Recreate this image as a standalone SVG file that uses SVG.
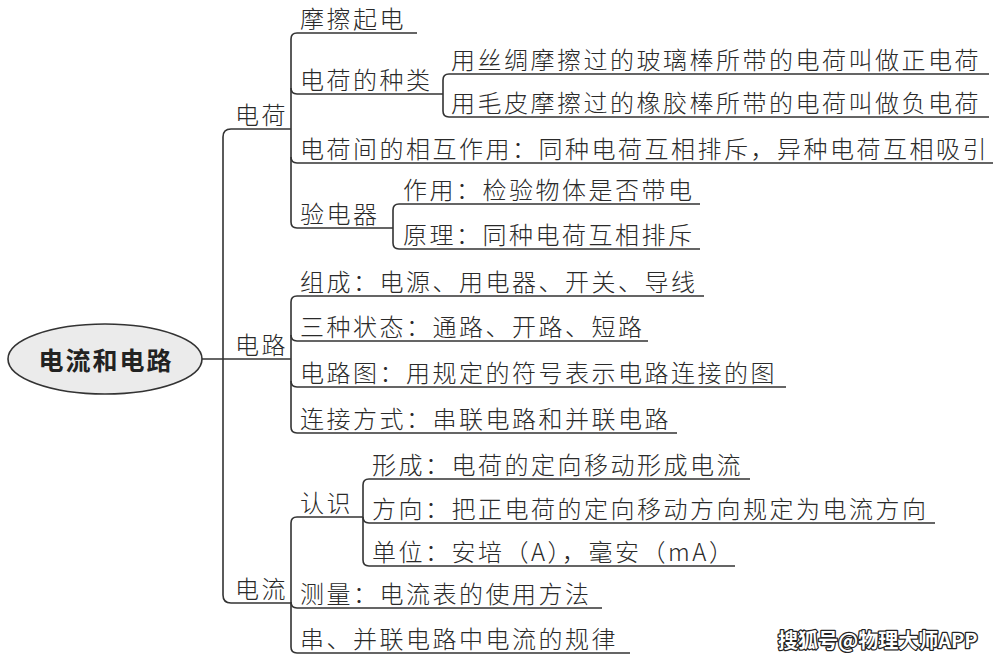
<svg xmlns="http://www.w3.org/2000/svg" width="1001" height="663" viewBox="0 0 1001 663">
<style>
.t{font-family:"Noto Sans CJK SC","Noto Sans",sans-serif;font-size:24px;font-weight:300;letter-spacing:2.5px;fill:#2a2a2a}
.root{font-family:"Noto Sans CJK SC","Noto Sans",sans-serif;font-size:25px;font-weight:bold;letter-spacing:2px;fill:#222}
.c{fill:none;stroke:#333;stroke-width:1.6}
.wm{font-family:"Noto Sans CJK SC","Noto Sans",sans-serif;font-size:20px;font-weight:bold;fill:#fff;stroke:#222;stroke-width:2.5;paint-order:stroke;stroke-linejoin:round}
</style>
<rect width="1001" height="663" fill="#fff"/>
<g id="connectors" class="c">
  <path d="M202,359 H291"/>
  <path d="M231,129 Q223,129 223,137 V595 Q223,603 231,603 H291"/>
  <path d="M231,129 H291"/>
  <path d="M297,33 H417 M297,33 Q291,33 291,39 V222 Q291,228 297,228 H393"/>
  <path d="M291,88 Q291,94 297,94 H443"/>
  <path d="M291,157 Q291,163 297,163 H993"/>
  <path d="M449,74 H989 M449,74 Q443,74 443,80 V111 Q443,117 449,117 H989"/>
  <path d="M399,204 H700 M399,204 Q393,204 393,210 V243 Q393,249 399,249 H700"/>
  <path d="M297,296 H704 M297,296 Q291,296 291,302 V427 Q291,433 297,433 H677"/>
  <path d="M291,335 Q291,341 297,341 H648"/>
  <path d="M291,381 Q291,387 297,387 H786"/>
  <path d="M297,517 H363 M297,517 Q291,517 291,523 V647 Q291,653 297,653 H630"/>
  <path d="M291,602 Q291,608 297,608 H602"/>
  <path d="M369,479 H750 M369,479 Q363,479 363,485 V560 Q363,566 369,566 H735"/>
  <path d="M363,517 Q363,523 369,523 H935"/>
</g>
<g id="root">
  <ellipse cx="105" cy="359" rx="97" ry="35" fill="#ebebeb" stroke="#333" stroke-width="1.6"/>
  <text class="root" x="106" y="370" text-anchor="middle">电流和电路</text>
</g>
<g id="n-dianhe"><text class="t" x="235" y="124">电荷</text></g>
<g id="n-dianlu"><text class="t" x="235" y="354">电路</text></g>
<g id="n-dianliu"><text class="t" x="235" y="598">电流</text></g>
<g id="n-mocaqidian"><text class="t" x="300" y="28">摩擦起电</text></g>
<g id="n-zhonglei"><text class="t" x="300" y="89">电荷的种类</text></g>
<g id="n-zheng"><text class="t" x="451" y="69">用丝绸摩擦过的玻璃棒所带的电荷叫做正电荷</text></g>
<g id="n-fu"><text class="t" x="451" y="112">用毛皮摩擦过的橡胶棒所带的电荷叫做负电荷</text></g>
<g id="n-xianghu"><text class="t" x="300" y="158">电荷间的相互作用：同种电荷互相排斥，异种电荷互相吸引</text></g>
<g id="n-yandianqi"><text class="t" x="300" y="223">验电器</text></g>
<g id="n-zuoyong"><text class="t" x="403" y="199">作用：检验物体是否带电</text></g>
<g id="n-yuanli"><text class="t" x="403" y="244">原理：同种电荷互相排斥</text></g>
<g id="n-zucheng"><text class="t" x="300" y="291">组成：电源、用电器、开关、导线</text></g>
<g id="n-zhuangtai"><text class="t" x="300" y="336">三种状态：通路、开路、短路</text></g>
<g id="n-dianlutu"><text class="t" x="300" y="382">电路图：用规定的符号表示电路连接的图</text></g>
<g id="n-lianjie"><text class="t" x="300" y="428">连接方式：串联电路和并联电路</text></g>
<g id="n-renshi"><text class="t" x="300" y="512">认识</text></g>
<g id="n-xingcheng"><text class="t" x="372" y="474">形成：电荷的定向移动形成电流</text></g>
<g id="n-fangxiang"><text class="t" x="372" y="518">方向：把正电荷的定向移动方向规定为电流方向</text></g>
<g id="n-danwei"><text class="t" x="372" y="561">单位：安培（A），毫安（mA）</text></g>
<g id="n-celiang"><text class="t" x="300" y="603">测量：电流表的使用方法</text></g>
<g id="n-guilv"><text class="t" x="300" y="648">串、并联电路中电流的规律</text></g>
<text class="wm" x="778" y="648">搜狐号@物理大师APP</text>
</svg>
